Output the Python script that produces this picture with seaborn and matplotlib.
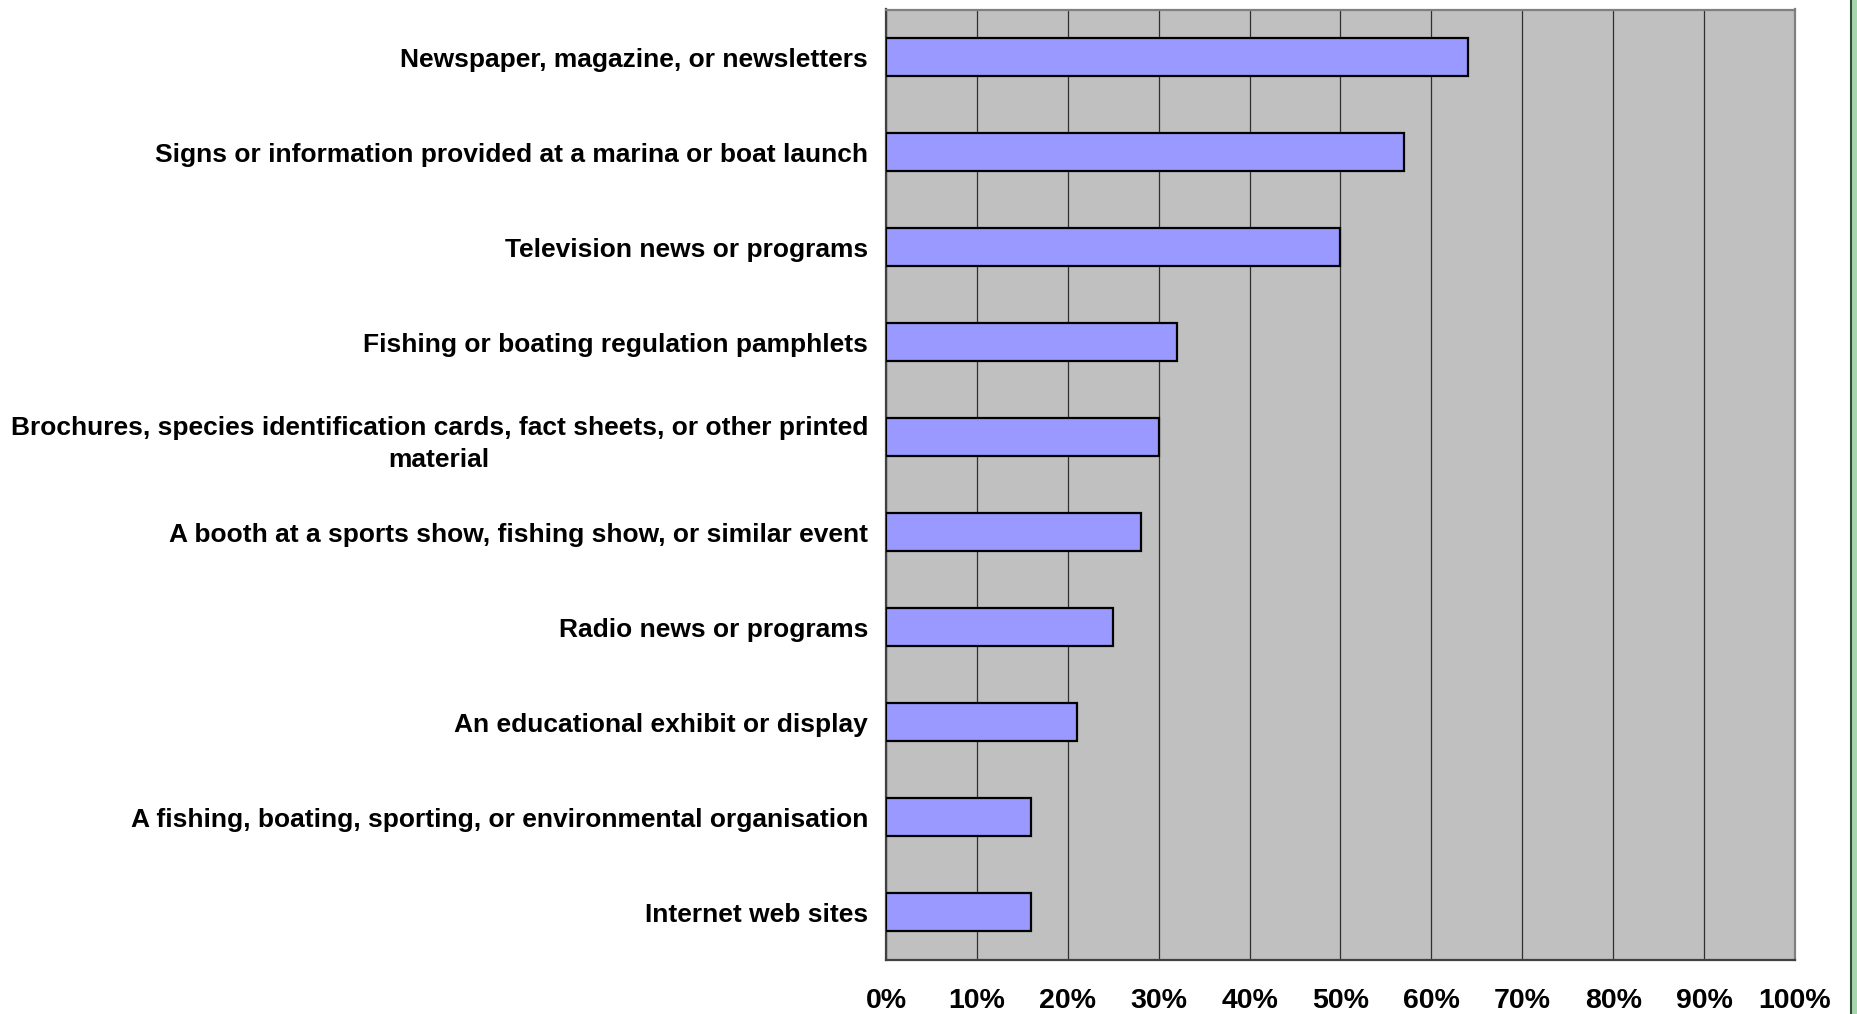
import matplotlib
matplotlib.use("Agg")
import matplotlib.pyplot as plt
import matplotlib.patches as mpatches
import matplotlib.lines as mlines
from matplotlib.ticker import FixedLocator, PercentFormatter
import seaborn as sns
import pandas as pd

categories = [
    "Newspaper, magazine, or newsletters",
    "Signs or information provided at a marina or boat launch",
    "Television news or programs",
    "Fishing or boating regulation pamphlets",
    "Brochures, species identification cards, fact sheets, or other printed\nmaterial",
    "A booth at a sports show, fishing show, or similar event",
    "Radio news or programs",
    "An educational exhibit or display",
    "A fishing, boating, sporting, or environmental organisation",
    "Internet web sites",
]
values = [64, 57, 50, 32, 30, 28, 25, 21, 16, 16]
x_ticks = [0, 10, 20, 30, 40, 50, 60, 70, 80, 90, 100]

df = pd.DataFrame({"source": categories, "pct": values})

sns.set_style("white")
plt.rcParams["font.family"] = ["Liberation Sans", "DejaVu Sans"]
plt.rcParams["text.color"] = "black"
plt.rcParams["xtick.labelcolor"] = "black"
plt.rcParams["ytick.labelcolor"] = "black"

fig = plt.figure(figsize=(18.58, 10.14), dpi=100)
fig.patch.set_facecolor("white")
ax = fig.add_axes([886 / 1858, 1 - 960 / 1014, (1795 - 886) / 1858, (960 - 9.5) / 1014])
ax.set_facecolor("#C0C0C0")

sns.barplot(data=df, x="pct", y="source", orient="h", color="#9999FF",
            saturation=1, edgecolor="black", linewidth=1.6, width=0.4, ax=ax, zorder=3)

ax.set_xlim(0, 100)
ax.set_ylim(len(categories) - 0.5, -0.5)
ax.xaxis.set_major_locator(FixedLocator(x_ticks))
ax.xaxis.set_major_formatter(PercentFormatter(decimals=0))
ax.grid(axis="x", color="#303030", linewidth=0.9, zorder=1)
ax.grid(axis="y", visible=False)
ax.set_axisbelow(True)
ax.set_xlabel("")
ax.set_ylabel("")

# y ticks: labels at centres, tick marks at category boundaries
ax.tick_params(axis="y", which="major", length=0, pad=13, labelcolor="black")
ax.yaxis.set_minor_locator(FixedLocator([i - 0.5 for i in range(len(categories) + 1)]))
ax.tick_params(axis="y", which="minor", length=6, width=1.2, color="#555555", direction="out")
ax.tick_params(axis="x", which="major", length=6, width=1.2, color="#555555", direction="out",
               pad=14, labelcolor="black")

for lab in ax.get_yticklabels():
    lab.set_fontsize(19.0)
    lab.set_fontweight("bold")
    lab.set_multialignment("center")
    lab.set_linespacing(1.45)
    lab.set_color("black")
for lab in ax.get_xticklabels():
    lab.set_fontsize(20.5)
    lab.set_fontweight("bold")
    lab.set_color("black")

for side in ["left", "bottom"]:
    ax.spines[side].set_color("#404040")
    ax.spines[side].set_linewidth(1.6)
for side in ["top", "right"]:
    ax.spines[side].set_visible(True)
    ax.spines[side].set_color("#808080")
    ax.spines[side].set_linewidth(1.6)

# decorative green strip at right edge of the slide
fig.patches.append(mpatches.Rectangle((1851.5 / 1858, 0), 1 - 1851.5 / 1858, 1,
                                      transform=fig.transFigure, facecolor="#A8D4AE",
                                      edgecolor="none", zorder=0))
fig.lines.append(mlines.Line2D([1851.5 / 1858, 1851.5 / 1858], [0, 1], transform=fig.transFigure,
                               color="#2F4F3A", linewidth=1.5))

fig.savefig("out.png", dpi=100)
